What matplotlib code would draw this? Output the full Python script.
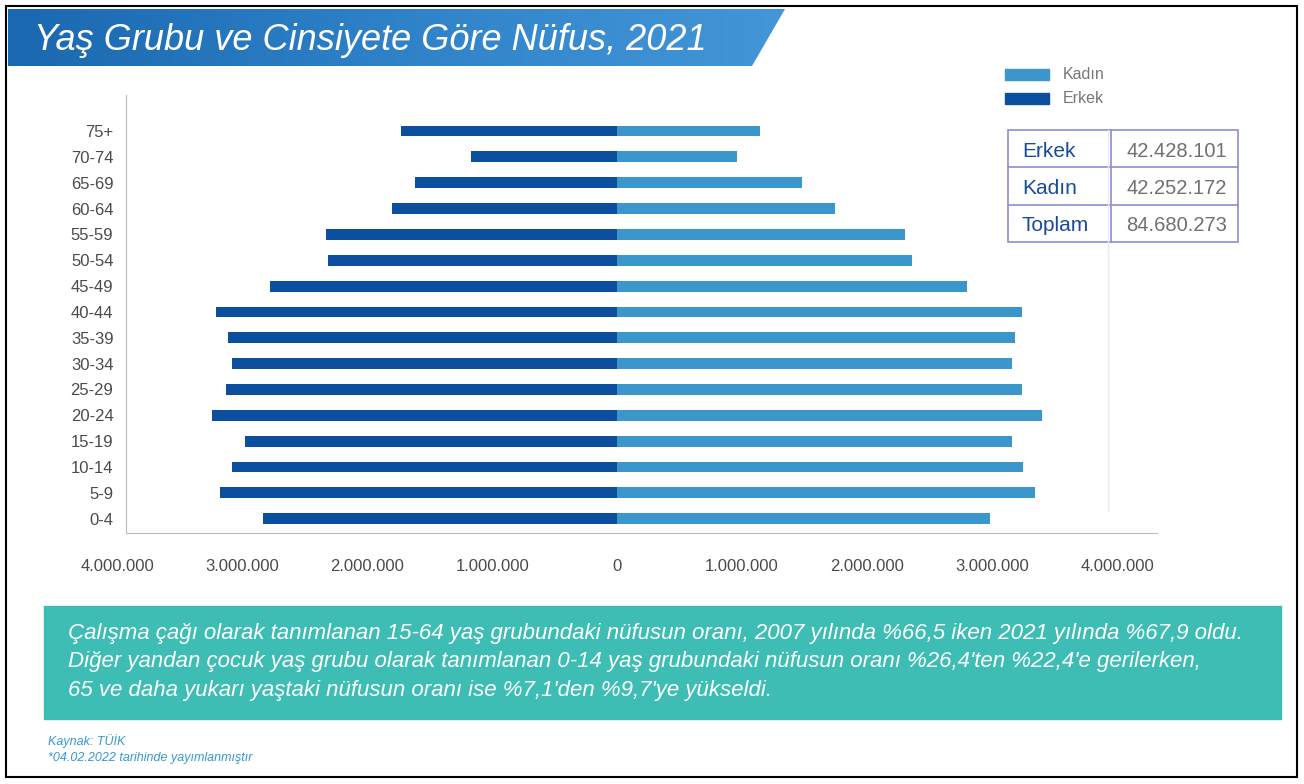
import matplotlib.pyplot as plt
import numpy as np
from matplotlib.patches import Polygon, Rectangle
from matplotlib.colors import LinearSegmentedColormap
from matplotlib.ticker import FuncFormatter

# Yaş grupları (alttan üste)
age_groups = ["0-4", "5-9", "10-14", "15-19", "20-24", "25-29", "30-34", "35-39",
              "40-44", "45-49", "50-54", "55-59", "60-64", "65-69", "70-74", "75+"]
erkek = [2830000, 3180000, 3080000, 2980000, 3240000, 3130000, 3080000, 3110000,
         3210000, 2780000, 2310000, 2330000, 1800000, 1620000, 1170000, 1730000]
kadin = [2980000, 3340000, 3250000, 3160000, 3400000, 3240000, 3160000, 3180000,
         3240000, 2800000, 2360000, 2300000, 1740000, 1480000, 960000, 1140000]
x_ticks = [-4000000, -3000000, -2000000, -1000000, 0, 1000000, 2000000, 3000000, 4000000]

table_rows = ["Erkek", "Kadın", "Toplam"]
table_vals = ["42.428.101", "42.252.172", "84.680.273"]

text_lines = [
    "Çalışma çağı olarak tanımlanan 15-64 yaş grubundaki nüfusun oranı, 2007 yılında %66,5 iken 2021 yılında %67,9 oldu.",
    "Diğer yandan çocuk yaş grubu olarak tanımlanan 0-14 yaş grubundaki nüfusun oranı %26,4'ten %22,4'e gerilerken,",
    "65 ve daha yukarı yaştaki nüfusun oranı ise %7,1'den %9,7'ye yükseldi.",
]

c_erkek = "#0b4f9e"
c_kadin = "#3a96cb"
plt.rcParams['font.family'] = ['Liberation Sans', 'DejaVu Sans']

fig = plt.figure(figsize=(13.04, 7.84), dpi=100)

# — arka plan / süsler (piksel koordinatları)
bg = fig.add_axes([0, 0, 1, 1], zorder=0)
bg.axis("off")
bg.add_patch(Rectangle((6, 6), 1291, 771, fill=False, edgecolor="black", lw=1.5))

# başlık şeridi (gradyan)
banner = Polygon([(8, 9), (785, 9), (752, 66), (8, 66)], closed=True,
                 facecolor="none", edgecolor="none")
bg.add_patch(banner)
grad = np.linspace(0, 1, 256).reshape(1, -1)
cmap = LinearSegmentedColormap.from_list("b", ["#1a68b0", "#2f82c8", "#4397d8"])
im = bg.imshow(grad, cmap=cmap, extent=(8, 785, 66, 9), aspect="auto", zorder=1)
im.set_clip_path(banner)
bg.set_xlim(0, 1304)
bg.set_ylim(784, 0)
bg.text(34, 40, "Yaş Grubu ve Cinsiyete Göre Nüfus, 2021", color="white",
        fontsize=26, style="italic", va="center", ha="left", zorder=2)

# lejant
bg.add_patch(Rectangle((1005, 69), 44, 11, color=c_kadin))
bg.add_patch(Rectangle((1005, 93), 44, 11, color=c_erkek))
bg.text(1063, 74, "Kadın", color="#777777", fontsize=11.5, va="center")
bg.text(1063, 98, "Erkek", color="#777777", fontsize=11.5, va="center")

# tablo
t_left, t_mid, t_right, t_top, row_h = 1008, 1111, 1238, 130, 37.3
tc = "#8a8fd0"
bg.add_patch(Rectangle((t_left, t_top), t_right - t_left, row_h * 3, fill=False,
                       edgecolor=tc, lw=1.2, zorder=3))
bg.plot([t_mid, t_mid], [t_top, t_top + 3 * row_h], color=tc, lw=1.2, zorder=3)
for i, (r, v) in enumerate(zip(table_rows, table_vals)):
    yb = t_top + row_h * (i + 0.5) + 8
    if i > 0:
        bg.plot([t_left, t_right], [t_top + row_h * i] * 2, color=tc, lw=1.2, zorder=3)
    bg.text(t_left + 14, yb, r, color="#1a4a9a", fontsize=15, va="baseline", zorder=3)
    bg.text(t_right - 11, yb, v, color="#707070", fontsize=14.5, va="baseline",
            ha="right", zorder=3)

# alt kutu
bg.add_patch(Rectangle((44, 606), 1237, 113, color="#3dbdb4"))
for i, line in enumerate(text_lines):
    bg.text(68, 639 + i * 28.5, line, color="white", fontsize=16, style="italic",
            va="baseline", ha="left")

bg.text(48, 745, "Kaynak: TÜİK", color="#3596d5", fontsize=9, style="italic", va="baseline")
bg.text(48, 761, "*04.02.2022 tarihinde yayımlanmıştır", color="#3596d5", fontsize=9,
        style="italic", va="baseline")

# — grafik
ax = fig.add_axes([111 / 1304, (784 - 533) / 784, 1046 / 1304, 438 / 784], zorder=2)
ax.patch.set_alpha(0)
y = np.arange(len(age_groups))
ax.barh(y, [-v for v in erkek], height=0.42, color=c_erkek, label="Erkek")
ax.barh(y, kadin, height=0.42, color=c_kadin, label="Kadın")
ax.axvline(3.93e6, color="#ececec", lw=1, zorder=0, ymin=0.05, ymax=0.92)

ax.set_xlim(-4.05e6, 4.32e6)
ax.set_ylim(-0.55, 16.39)
ax.set_yticks(y)
ax.set_yticklabels(age_groups)
ax.set_xticks(x_ticks)
ax.xaxis.set_major_formatter(FuncFormatter(lambda v, p: f"{abs(int(v)):,}".replace(",", ".")))
ax.tick_params(length=0, labelsize=12, labelcolor="#4a4a4a")
ax.tick_params(axis="x", pad=19)
ax.tick_params(axis="y", pad=9)
for s in ["top", "right"]:
    ax.spines[s].set_visible(False)
ax.spines["left"].set_position(("data", -3.93e6))
ax.spines["left"].set_color("#bbbbbb")
ax.spines["bottom"].set_color("#bbbbbb")
ax.spines["bottom"].set_bounds(-3.93e6, 4.32e6)

fig.savefig("out.png", dpi=100)
